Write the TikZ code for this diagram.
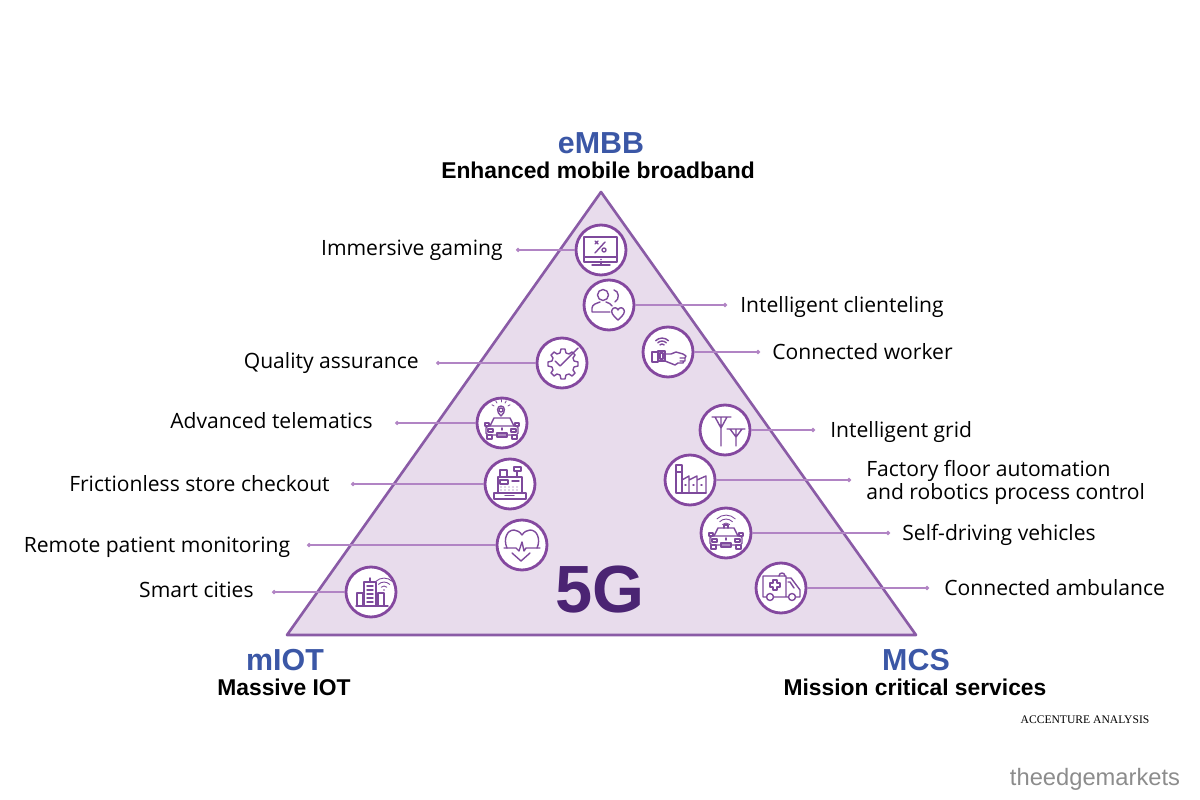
\documentclass[tikz,border=0pt]{standalone}
\usepackage{fontspec}
\setmainfont{Open Sans}
\newfontfamily\notefont{Liberation Serif}
\newfontfamily\markfont{Liberation Sans}
\usetikzlibrary{arrows.meta, positioning}

\definecolor{triFill}{HTML}{E8DCEC}
\definecolor{triEdge}{HTML}{8A5BA6}
\definecolor{ringEdge}{HTML}{84489F}
\definecolor{iconLine}{HTML}{7E4A9C}
\definecolor{leadLine}{HTML}{B184C4}
\definecolor{headBlue}{HTML}{3B57A6}
\definecolor{bigPurple}{HTML}{4B2473}

\begin{document}
\begin{tikzpicture}[x=0.02cm, y=-0.02cm, line cap=round, line join=round]
	\tikzset{
		iconring/.style={circle, draw=ringEdge, line width=1.6pt, fill=white, minimum size=1cm, inner sep=0pt},
		leader/.style={leadLine, line width=0.7pt, -{Circle[length=2.4pt]}},
		lab/.style={font=\fontsize{12}{13.6}\selectfont, inner sep=0pt, text=black, align=left, yshift=-0.05cm},
		labone/.style={lab, text height=8.5pt, text depth=2.5pt},
		head/.style={font=\markfont\fontsize{17.3}{19}\selectfont\bfseries, text=headBlue, inner sep=0pt},
		subhead/.style={font=\markfont\fontsize{13}{14}\selectfont\bfseries, text=black, inner sep=0pt},
		icon/.style={iconLine, line width=0.8pt},
		monitor/.pic={
			\draw[icon] (-17,-13) rectangle (16,12) (-17,7) -- (16,7) (0,12) -- (0,15) (-9,15) -- (9,15);
			\draw[icon] (4,-8) -- (-6,3) (-6,-9) -- (-3,-6) (-3,-9) -- (-6,-6);
			\draw[icon] (3,0) circle (2);
			\fill[iconLine] (0,9.5) circle (0.8);
		},
		client/.pic={
			\draw[icon] (-6,-10) circle (5.5);
			\draw[icon] (-17,7) -- (-17,3) .. controls (-17,-1) and (-11,-2) .. (-9,-3) (-3,-3) .. controls (0,-2) and (2,-1) .. (3,1) (-17,7) -- (1,7);
			\draw[icon] (5,-15) .. controls (10,-14) and (11,-6) .. (6,-3);
			\draw[icon] (9,15) .. controls (3,10) and (2,7) .. (3,5) .. controls (4,2) and (8,2) .. (9,5) .. controls (10,2) and (14,2) .. (15,5) .. controls (16,7) and (15,10) .. (9,15) -- cycle;
		},
		worker/.pic={
			\draw[icon] (-16,0) rectangle (-10,10) (-10,-1) rectangle (-3,9) (-8,1) rectangle (-5,7);
			\draw[icon] (-3,2) -- (3,2) -- (8,0) -- (15,2) -- (18,4) -- (17,6) -- (12,6) (17,6) -- (17,9) -- (12,9) (16,9) -- (15,11) -- (10,11) -- (7,13) -- (-3,9);
			\foreach \r in {3,6,9} \draw[icon] ({-6-0.7*\r},{-8-0.7*\r+3}) arc (225:315:\r);
		},
		gear/.pic={
			\draw[icon] (0,-14) -- (3,-14) -- (4,-10) -- (7,-9) -- (10,-11) -- (13,-8) -- (11,-5) -- (12,-2) -- (16,-1) -- (16,3) -- (12,4) -- (11,7) -- (13,10) -- (10,13) -- (7,11) -- (4,12) -- (3,16) -- (-1,16) -- (-2,12) -- (-5,11) -- (-8,13) -- (-11,10) -- (-9,7) -- (-10,4) -- (-14,3) -- (-14,-1) -- (-10,-2) -- (-9,-5) -- (-11,-8) -- (-8,-11) -- (-5,-9) -- (-2,-10) -- (-1,-14) -- cycle;
			\fill[white] (-3,-1) -- (3,-8) -- (9,-1) -- (1,7) -- cycle;
			\draw[icon] (-7,-2) -- (-2,3) -- (16,-15);
		},
		carbody/.pic={
			\draw[icon] (-12,3) -- (-8,-5) -- (8,-5) -- (12,3);
			\draw[icon, rounded corners=1pt] (-16,3) rectangle (16,12);
			\draw[icon] (-15,12) rectangle (-10,16) (10,12) rectangle (15,16) (-5,10) rectangle (5,14);
			\draw[icon] (-17,0) rectangle (-13,3) (13,0) rectangle (17,3);
			\draw[icon] (-14,6) rectangle (-9,9) (9,6) rectangle (14,9);
			\draw[icon] (0,5) -- (0,7);
		},
		beaconcar/.pic={
			\pic {carbody};
			\draw[icon] (-1,-7) .. controls (-6,-11) and (-5,-17) .. (-1,-17) .. controls (3,-17) and (4,-11) .. (-1,-7) -- cycle;
			\draw[icon] (-1,-13) circle (2);
			\foreach \a in {-150,-120,-90,-60,-30} \draw[icon, line width=0.45pt] ({-1+8*cos(\a)},{-13+8*sin(\a)}) -- ({-1+10.5*cos(\a)},{-13+10.5*sin(\a)});
		},
		wificar/.pic={
			\pic {carbody};
			\draw[icon] (-2,-5) -- (-2,-8) -- (2,-8) -- (2,-5);
			\foreach \r in {5,9,13} \draw[icon, line width=0.5pt] ({-0.7*\r},{-8-0.7*\r+3}) arc (225:315:\r);
		},
		register/.pic={
			\draw[icon] (-16,9) rectangle (16,15) (-5,11.5) -- (4,11.5);
			\draw[icon] (-12,9) -- (-12,-7) -- (12,-7) -- (12,9);
			\draw[icon] (-10,-14) rectangle (-3,-7) (4,-17) rectangle (11,-13) (7,-13) -- (7,-7);
			\draw[icon] (-10,-4) rectangle (-2,0) (2,-3) -- (9,-3);
			\foreach \kx in {-9,-5,...,9} \foreach \ky in {3,6} \fill[iconLine] (\kx,\ky) circle (0.7);
		},
		ecgheart/.pic={
			\draw[icon] (-15,3) .. controls (-19,-6) and (-15,-15) .. (-8,-15) .. controls (-5,-15) and (-2,-13) .. (0,-10) .. controls (2,-13) and (5,-15) .. (8,-15) .. controls (15,-15) and (19,-6) .. (15,3);
			\draw[icon] (-18,3) -- (-6,3) -- (-3,6) -- (0,-3) -- (2,6) -- (4,3) -- (18,3);
			\draw[icon] (-10,8) -- (-1,16) -- (8,8);
		},
		city/.pic={
			\draw[icon] (-15,14) -- (17,14);
			\draw[icon] (-7,14) -- (-7,-10) -- (5,-10) -- (5,14) (-14,14) -- (-14,1) -- (-8,1) -- (-8,14) (7,14) -- (7,1) -- (13,1) -- (13,14) (-1,-10) -- (-1,-14);
			\foreach \fy in {-6,-2,2,6,10} \draw[icon] (-4,\fy) -- (2,\fy);
			\fill[iconLine] (13,-2) circle (0.8);
			\foreach \r in {4,8,12} \draw[icon, line width=0.5pt] ({13-0.7*\r},{-2-0.7*\r}) arc (225:315:\r);
		},
		pylons/.pic={
			\draw[icon] (-4,-12) -- (-4,16) (-13,-13) -- (6,-13) (-10,-13) -- (-4,-2) -- (2,-13);
			\draw[icon] (11,-1) -- (11,16) (2,-1) -- (20,-1) (5,-1) -- (11,7) -- (17,-1);
		},
		factory/.pic={
			\draw[icon] (-14,13) -- (-14,-15) -- (-8,-15) -- (-8,13) (-14,-8) -- (-8,-8) (-14,13) -- (16,13);
			\draw[icon] (-8,0) -- (-1,-4) -- (-1,13) (-1,0) -- (7,-4) -- (7,13) (7,0) -- (16,-4) -- (16,13);
			\draw[icon] (-5,5) -- (-4,5) (3,5) -- (4,5) (11,5) -- (12,5);
		},
		ambulance/.pic={
			\draw[icon] (-14,9) -- (-18,9) -- (-18,-12) -- (5,-12) -- (5,9) (-7,9) -- (7,9) (15,9) -- (19,9) -- (19,2) -- (10,-10) -- (5,-10);
			\draw[icon] (-11,9) circle (3.5) (11,9) circle (3.5);
			\draw[icon] (7,-6) -- (9,-6) -- (13,0);
			\draw[icon] (-8,-8) -- (-4,-8) -- (-4,-5) -- (-1,-5) -- (-1,-1) -- (-4,-1) -- (-4,2) -- (-8,2) -- (-8,-1) -- (-11,-1) -- (-11,-5) -- (-8,-5) -- cycle;
			\draw[icon] (-2,-12) .. controls (-2,-16) and (4,-16) .. (4,-12);
		}
	}
	
	\useasboundingbox (0,0) rectangle (1200,800);
	
	\draw[triEdge, fill=triFill, line width=1.5pt] (601,192) -- (916,635) -- (287,635) -- cycle;
	
	% circles on the triangle
	\node[iconring] (gaming) at (601,250) {};
	\node[iconring] (clienteling) at (609,305) {};
	\node[iconring] (worker) at (668,352) {};
	\node[iconring] (quality) at (562,363) {};
	\node[iconring] (telematics) at (502,423) {};
	\node[iconring] (checkout) at (510,484) {};
	\node[iconring] (patient) at (522,545) {};
	\node[iconring] (cities) at (371,592) {};
	\node[iconring] (grid) at (725,430) {};
	\node[iconring] (robotics) at (690,480) {};
	\node[iconring] (selfdrive) at (726,533) {};
	\node[iconring] (ambul) at (781,588) {};
	
	% free ends of the leaders
	\coordinate (gamingEnd) at (516,250);
	\coordinate (clientelingEnd) at (727,305);
	\coordinate (workerEnd) at (760,352);
	\coordinate (qualityEnd) at (436,363);
	\coordinate (telematicsEnd) at (395,423);
	\coordinate (checkoutEnd) at (351,484);
	\coordinate (patientEnd) at (307,545);
	\coordinate (citiesEnd) at (272,592);
	\coordinate (gridEnd) at (815,430);
	\coordinate (roboticsEnd) at (851,480);
	\coordinate (selfdriveEnd) at (890,533);
	\coordinate (ambulEnd) at (929,588);
	
	\foreach \n in {gaming,clienteling,worker,quality,telematics,checkout,patient,cities,grid,robotics,selfdrive,ambul}
		\draw[leader] (\n) -- (\n End);
	
	\pic at (gaming) {monitor};
	\pic at (clienteling) {client};
	\pic at (worker) {worker};
	\pic at (quality) {gear};
	\pic at (telematics) {beaconcar};
	\pic at (checkout) {register};
	\pic at (patient) {ecgheart};
	\pic at (cities) {city};
	\pic at (grid) {pylons};
	\pic at (robotics) {factory};
	\pic at (selfdrive) {wificar};
	\pic at (ambul) {ambulance};
	
	\node[labone, left=0.26cm of gamingEnd, yshift=0.04cm] (gamingLab) {Immersive gaming};
	\node[labone, right=0.26cm of clientelingEnd] (clientelingLab) {Intelligent clienteling};
	\node[labone, right=0.24cm of workerEnd] (workerLab) {Connected worker};
	\node[labone, left=0.34cm of qualityEnd, yshift=0.04cm] (qualityLab) {Quality assurance};
	\node[labone, left=0.44cm of telematicsEnd, yshift=0.05cm] (telematicsLab) {Advanced telematics};
	\node[labone, left=0.42cm of checkoutEnd] (checkoutLab) {Frictionless store checkout};
	\node[labone, left=0.33cm of patientEnd] (patientLab) {Remote patient monitoring};
	\node[labone, left=0.36cm of citiesEnd, yshift=0.04cm] (citiesLab) {Smart cities};
	\node[labone, right=0.30cm of gridEnd] (gridLab) {Intelligent grid};
	\node[lab, right=0.30cm of roboticsEnd] (roboticsLab) {Factory floor automation\\and robotics process control};
	\node[labone, right=0.24cm of selfdriveEnd] (selfdriveLab) {Self-driving vehicles};
	\node[labone, right=0.30cm of ambulEnd] (ambulLab) {Connected ambulance};
	
	\node[head] (embb) at (601,143) {eMBB};
	\node[subhead] (embbSub) at (598,170) {Enhanced mobile broadband};
	\node[head] (miot) at (285,660) {mIOT};
	\node[subhead] (miotSub) at (284,687) {Massive IOT};
	\node[head] (mcs) at (916,660) {MCS};
	\node[subhead] (mcsSub) at (915,687) {Mission critical services};
	
	\node[font=\markfont\fontsize{38}{40}\selectfont\bfseries, text=bigPurple, inner sep=0pt] (fiveg) at (600,590) {5G};
	\node[font=\notefont\fontsize{6.6}{8}\selectfont, inner sep=0pt] (source) at (1085,720) {ACCENTURE ANALYSIS};
	\node[font=\markfont\fontsize{13.5}{15}\selectfont, text=black!45, inner sep=0pt] (brand) at (1095,779) {theedgemarkets};
\end{tikzpicture}
\end{document}
